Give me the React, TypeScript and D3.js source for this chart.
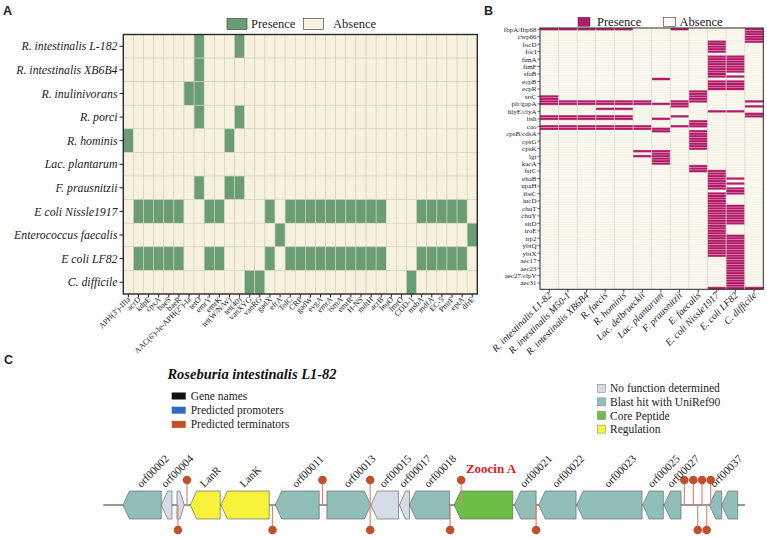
import React from 'react';
import * as d3 from 'd3';

// ---------- Panel A data ----------
const strainsA = [
  'R. intestinalis L-182', 'R. intestinalis XB6B4', 'R. inulinivorans', 'R. porci', 'R. hominis',
  'Lac. plantarum', 'F. prausnitzii', 'E coli Nissle1917', 'Enterococcus faecalis', 'E coli LF82', 'C. difficile',
];
const genesA = [
  "APH(3')-IIIa", 'acrD', 'kdpE', 'cpxA', 'baeS', 'baeR', "AAC(6')-Ie-APH(2'')-Ia", 'tetO', 'emrY', 'emrK',
  'tet(W/N/W)', 'tet(40)', 'vanXYG', 'vanRG', 'gadX', 'efrA', 'TolC', 'CRP', 'gadW', 'evgA', 'emrA', 'rsmA',
  'emrR', 'H-NS', 'mdtH', 'acrB', 'lnuO', 'lmrO', 'CDD-1', 'msbA', 'mdfA', 'EC-5', 'PmrF', 'eptA', 'dfrE',
];
const presL182 = [7, 11];
const presXB6B4 = [7];
const presInulin = [6, 7];
const presPorci = [7, 11];
const presHominis = [0, 10];
const presPlantarumA: number[] = [];
const presPraus = [7, 10, 11];
const presNissle = [1, 2, 3, 4, 5, 8, 9, 14, 16, 17, 18, 19, 20, 21, 22, 23, 24, 25, 29, 30, 31, 32, 33];
const presEfaecalis = [15, 34];
const presLF82 = [1, 2, 3, 4, 5, 8, 9, 14, 16, 17, 18, 19, 20, 21, 22, 23, 24, 25, 29, 30, 31, 32, 33];
const presCdiff = [12, 13, 28];
const presenceA = [presL182, presXB6B4, presInulin, presPorci, presHominis, presPlantarumA, presPraus,
  presNissle, presEfaecalis, presLF82, presCdiff];

// ---------- Panel B data ----------
const strainsB = [
  'R. intestinalis L1-82', 'R. intestinalis M50-1', 'R. intestinalis XB6B4', 'R. faecis', 'R. hominis',
  'Lac. delbrueckii', 'Lac. plantarum', 'F. prausnitzii', 'E. faecalis', 'E. coli Nissle1917', 'E. coli LF82', 'C. difficile',
];
const rowCountB = 105;
const rowLabelsB = [
  'fbpA/fbp68', 'cwp66', 'focD', 'focI', 'fimA', 'fimF', 'sfaB', 'ecpB', 'ecpR', 'srtC', 'plr/gapA', 'hlyE/clyA',
  'bsh', 'cao', 'cpsB/cdsA', 'cpsG', 'cpsK', 'lgt', 'kacA', 'fsrC', 'ehaB', 'upaH', 'ibeC', 'iucD', 'chuT', 'chuY',
  'sitD', 'iroE', 'irp2', 'ybtQ', 'ybtX', 'aec17', 'aec23', 'aec27/clpV', 'aec31',
];
const runsL182 = [[0, 0], [27, 27], [28, 30], [35, 36], [39, 40]];
const runsM50 = [[0, 0], [29, 30], [35, 36], [39, 40]];
const runsXB = [[0, 0], [29, 30], [35, 36], [39, 40]];
const runsFaecis = [[0, 0], [29, 30], [32, 32], [35, 36], [39, 40]];
const runsHominis = [[0, 0], [29, 30], [32, 32], [35, 36], [39, 40]];
const runsDelb = [[29, 30], [39, 40], [49, 49], [51, 51]];
const runsPlant = [[20, 20], [30, 30], [36, 36], [40, 41], [49, 54]];
const runsPraus = [[0, 0], [29, 31], [35, 35], [39, 39]];
const runsEfae = [[25, 29], [37, 39], [41, 48], [55, 57]];
const runsNissle = [[5, 9], [11, 19], [21, 24], [33, 33], [57, 64], [66, 91], [104, 104]];
const runsLF82 = [[11, 17], [19, 19], [21, 24], [33, 33], [60, 60], [62, 62], [64, 66], [71, 78], [83, 104]];
const runsCdiff = [[0, 5], [29, 29], [31, 31], [34, 35], [104, 104]];
const presenceB = [runsL182, runsM50, runsXB, runsFaecis, runsHominis, runsDelb, runsPlant, runsPraus,
  runsEfae, runsNissle, runsLF82, runsCdiff];

// ---------- Panel C data (positions in kb) ----------
const geneNames = ['orf00002', 'orf00004', '', 'LanR', 'LanK', 'orf00011', 'orf00013', 'orf00015', 'orf00017',
  'orf00018', 'Zoocin A', 'orf00021', 'orf00022', 'orf00023', 'orf00025', 'orf00027', 'orf00037', ''];
const geneStart = [1.97, 5.8, 7.37, 8.7, 11.77, 17.2, 22.37, 26.77, 29.63, 30.63, 35.1, 41.13, 43.57, 47.37, 53.97, 56.1, 60.63, 61.87];
const geneEnd = [5.8, 6.87, 8.1, 11.7, 16.6, 21.6, 26.77, 29.53, 30.63, 34.63, 40.97, 43.3, 47.3, 53.9, 56.03, 57.8, 61.87, 63.47];
const geneStrand = [-1, -1, 1, -1, -1, -1, 1, -1, -1, -1, -1, -1, -1, -1, -1, -1, -1, -1];
const geneType = ['blast', 'none', 'none', 'reg', 'reg', 'blast', 'blast', 'none', 'none', 'blast', 'core',
  'blast', 'blast', 'blast', 'blast', 'blast', 'blast', 'blast'];
const termPos = [7.47, 8.37, 16.93, 21.93, 26.7, 26.7, 34.7, 35.8, 43.3, 58.13, 59.03, 59.9, 60.77, 59.47, 60.37];
const termDir = ['down', 'up', 'down', 'up', 'up', 'down', 'down', 'up', 'down', 'up', 'up', 'up', 'up', 'down', 'down'];
const regionLength = 64.2;
const legendLeft = ['Gene names', 'Predicted promoters', 'Predicted terminators'];
const legendRight = ['No function determined', 'Blast hit with UniRef90', 'Core Peptide', 'Regulation'];

const SERIF = "'Liberation Serif', 'Times New Roman', serif";
const SANS = "'Liberation Sans', Arial, sans-serif";
const GREEN = '#6a9d74';
const CREAM = '#f6f2df';
const MAGENTA = '#b3186a';
const B_BG = '#fbf9ef';
const typeColor: Record<string, string> = { blast: '#8fbfb8', none: '#d6dbe7', core: '#6cbf46', reg: '#f6f33a' };

function PanelA() {
  const x = d3.scaleBand<string>().domain(genesA).range([123.3, 477.3]);
  const y = d3.scaleBand<string>().domain(strainsA).range([34.5, 294]);
  const bw = x.bandwidth();
  const bh = y.bandwidth();
  return (
    <g>
      <text x={3} y={15} fontFamily={SANS} fontWeight="bold" fontSize={12.5} fill="#222">A</text>
      <rect x={227} y={18.5} width={20} height={11} fill={GREEN} stroke="#333" strokeWidth={0.6} />
      <text x={251} y={27.5} fontFamily={SERIF} fontSize={12.5} fill="#222">Presence</text>
      <rect x={303.5} y={18.5} width={20} height={11} fill={CREAM} stroke="#333" strokeWidth={0.6} />
      <text x={333} y={27.5} fontFamily={SERIF} fontSize={12.5} fill="#222">Absence</text>
      {strainsA.map((s, si) =>
        genesA.map((g, gi) => (
          <rect key={`${si}-${gi}`} x={x(g)} y={y(s)} width={bw} height={bh}
            fill={presenceA[si].includes(gi) ? GREEN : CREAM} stroke="#d3d0b8" strokeWidth={0.6} />
        ))
      )}
      <rect x={123.3} y={34.5} width={354} height={259.5} fill="none" stroke="#2a2a2a" strokeWidth={1.4} />
      {strainsA.map((s) => {
        const cy = (y(s) as number) + bh / 2;
        return (
          <g key={s}>
            <line x1={119.5} x2={123.3} y1={cy} y2={cy} stroke="#222" strokeWidth={1} />
            <text x={117.5} y={cy + 4.1} textAnchor="end" fontFamily={SERIF} fontStyle="italic" fontSize={11.8} fill="#222">{s}</text>
          </g>
        );
      })}
      {genesA.map((g) => {
        const cx = (x(g) as number) + bw / 2;
        return (
          <g key={g}>
            <line x1={cx} x2={cx} y1={294} y2={297.5} stroke="#222" strokeWidth={1} />
            <text transform={`translate(${cx + 2.5},${300}) rotate(-45)`} textAnchor="end" fontFamily={SERIF} fontSize={8} fill="#222">{g}</text>
          </g>
        );
      })}
    </g>
  );
}

function PanelB() {
  const x = d3.scaleBand<string>().domain(strainsB).range([540, 763.3]);
  const y = d3.scaleBand<number>().domain(d3.range(rowCountB)).range([28, 289.3]);
  const bw = x.bandwidth();
  const bh = y.bandwidth();
  const cells: JSX.Element[] = [];
  presenceB.forEach((runs, ci) => {
    runs.forEach(([a, b]) => {
      for (let r = a; r <= b; r++) {
        cells.push(<rect key={`${ci}-${r}`} x={x(strainsB[ci])} y={y(r)} width={bw} height={bh} fill={MAGENTA} />);
      }
    });
  });
  return (
    <g>
      <text x={484} y={15} fontFamily={SANS} fontWeight="bold" fontSize={12.5} fill="#222">B</text>
      <rect x={578} y={17.3} width={12} height={9} fill={MAGENTA} stroke="#333" strokeWidth={0.5} />
      <text x={597} y={25.5} fontFamily={SERIF} fontSize={12.5} fill="#222">Presence</text>
      <rect x={663.5} y={17.3} width={12} height={9} fill="#fdfcf5" stroke="#333" strokeWidth={0.6} />
      <text x={679.5} y={25.5} fontFamily={SERIF} fontSize={12.5} fill="#222">Absence</text>
      <rect x={540} y={28} width={223.3} height={261.3} fill={B_BG} />
      {cells}
      {d3.range(rowCountB + 1).map((r) => {
        const yy = 28 + r * bh;
        return <line key={`h${r}`} x1={540} x2={763.3} y1={yy} y2={yy} stroke="#e9e6d6" strokeWidth={0.4} opacity={0.8} />;
      })}
      {strainsB.map((s, i) => i > 0 && (
        <line key={`v${s}`} x1={x(s)} x2={x(s)} y1={28} y2={289.3} stroke="#d8d6ca" strokeWidth={0.7} />
      ))}
      <rect x={540} y={28} width={223.3} height={261.3} fill="none" stroke="#2a2a2a" strokeWidth={1} />
      {rowLabelsB.map((lab, i) => {
        const cy = (y(i * 3) as number) + bh / 2;
        return (
          <g key={lab}>
            <line x1={537.5} x2={540} y1={cy} y2={cy} stroke="#222" strokeWidth={0.7} />
            <text x={536.5} y={cy + 2.4} textAnchor="end" fontFamily={SERIF} fontSize={7} fill="#222">{lab}</text>
          </g>
        );
      })}
      {strainsB.map((s) => {
        const cx = (x(s) as number) + bw / 2;
        return (
          <g key={s}>
            <line x1={cx} x2={cx} y1={289.3} y2={292.5} stroke="#222" strokeWidth={0.8} />
            <text transform={`translate(${cx + 3},${296}) rotate(-45)`} textAnchor="end" fontFamily={SERIF} fontStyle="italic" fontSize={9.8} fill="#222">{s}</text>
          </g>
        );
      })}
    </g>
  );
}

function PanelC() {
  const x = d3.scaleLinear().domain([0, regionLength]).range([103.3, 745]);
  const yc = 505;
  const half = 14;
  const genePath = (i: number) => {
    const x0 = x(geneStart[i]);
    const x1 = x(geneEnd[i]);
    const h = Math.min(6.5, (x1 - x0) * 0.6);
    if (geneStrand[i] < 0) {
      return `M${x0},${yc} L${x0 + h},${yc - half} L${x1},${yc - half} L${x1},${yc + half} L${x0 + h},${yc + half} Z`;
    }
    return `M${x0},${yc - half} L${x1 - h},${yc - half} L${x1},${yc} L${x1 - h},${yc + half} L${x0},${yc + half} Z`;
  };
  const leftColors = ['#111', '#2f6bc5', '#c4502a'];
  const rightColors = [typeColor.none, typeColor.blast, typeColor.core, typeColor.reg];
  return (
    <g>
      <text x={4} y={364} fontFamily={SANS} fontWeight="bold" fontSize={12.5} fill="#222">C</text>
      <text x={252} y={379} textAnchor="middle" fontFamily={SERIF} fontWeight="bold" fontStyle="italic" fontSize={14.5} fill="#111">Roseburia intestinalis L1-82</text>
      {legendLeft.map((t, i) => (
        <g key={t}>
          <rect x={171.7} y={392.5 + i * 14.2} width={14} height={7} fill={leftColors[i]} />
          <text x={190.7} y={400 + i * 14.2} fontFamily={SERIF} fontSize={11.5} fill="#222">{t}</text>
        </g>
      ))}
      {legendRight.map((t, i) => (
        <g key={t}>
          <rect x={597.5} y={384.3 + i * 13.6} width={8} height={8} fill={rightColors[i]} stroke="#777" strokeWidth={0.5} />
          <text x={610} y={392.3 + i * 13.6} fontFamily={SERIF} fontSize={11.5} fill="#222">{t}</text>
        </g>
      ))}
      <line x1={x(0)} x2={x(regionLength)} y1={yc} y2={yc} stroke="#333" strokeWidth={1.2} />
      {geneNames.map((n, i) => (
        <path key={`g${i}`} d={genePath(i)} fill={typeColor[geneType[i]]} stroke="#6a6a6a" strokeWidth={0.7} />
      ))}
      {termPos.map((p, i) => {
        const tx = x(p);
        const cyT = termDir[i] === 'up' ? 480 : 530;
        return (
          <g key={`t${i}`}>
            <line x1={tx} x2={tx} y1={yc} y2={cyT} stroke="#dd8a74" strokeWidth={1.2} />
            <circle cx={tx} cy={cyT} r={4.3} fill="#c14f2b" />
          </g>
        );
      })}
      {geneNames.map((n, i) => {
        if (!n) return null;
        const cx = (x(geneStart[i]) + x(geneEnd[i])) / 2;
        if (n === 'Zoocin A') {
          return <text key={`l${i}`} x={491} y={472.5} textAnchor="middle" fontFamily={SERIF} fontWeight="bold" fontSize={13} fill="#e0201b">{n}</text>;
        }
        return (
          <text key={`l${i}`} transform={`translate(${cx - 1},${488}) rotate(-45)`} fontFamily={SERIF} fontSize={11} fill="#222">{n}</text>
        );
      })}
    </g>
  );
}

export default function App() {
  return (
    <svg width={767} height={539} viewBox="0 0 767 539"
      style={{ position: 'absolute', left: 0, top: 0, background: '#fff' }}>
      <rect width={767} height={539} fill="#fff" />
      <PanelA />
      <PanelB />
      <PanelC />
    </svg>
  );
}
